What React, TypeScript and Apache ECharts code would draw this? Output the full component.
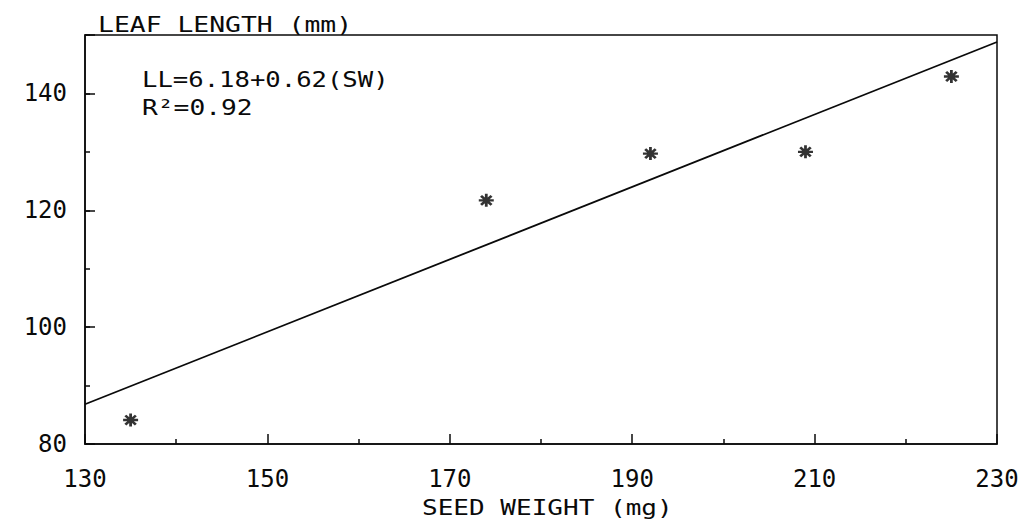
import React, { useEffect, useRef } from "react";
import * as echarts from "echarts";

const seedWeight = [135, 174, 192, 209, 225];
const leafLength = [84.1, 121.7, 129.7, 130.0, 142.9];
const fitX = [130, 230];
const fitY = [86.8, 148.8];
const xTickLabels = [130, 150, 170, 190, 210, 230];
const yTickLabels = [80, 100, 120, 140];
const titleText = "LEAF LENGTH (mm)";
const xName = "SEED WEIGHT (mg)";
const eqText = "LL=6.18+0.62(SW)";
const r2Text = "R\u00b2=0.92";

const FONT = "DejaVu Sans Mono";
const INK = "#0a0a0a";
const ASTERISK = "path://M0,-10L0,10M-10,0L10,0M-7,-7L7,7M-7,7L7,-7";

export default function App() {
  const ref = useRef<HTMLDivElement>(null);
  useEffect(() => {
    if (!ref.current) return;
    const chart = echarts.init(ref.current, undefined, { renderer: "svg" });
    const baseAxisLabel = { color: INK, fontFamily: FONT, fontSize: 24 };
    const txt = (text: string, x: number, y: number, size: number, sx: number) => ({
      type: "text",
      x,
      y,
      scaleX: sx,
      style: { text, fill: INK, font: `${size}px '${FONT}'`, align: "left", verticalAlign: "middle" },
    });
    chart.setOption({
      animation: false,
      backgroundColor: "#ffffff",
      grid: {
        left: 85,
        right: 33,
        top: 35,
        bottom: 78,
        show: true,
        borderColor: INK,
        borderWidth: 1.5,
        backgroundColor: "transparent",
      },
      xAxis: [
        {
          type: "value",
          min: 130,
          max: 230,
          interval: 20,
          axisLine: { show: true, lineStyle: { color: INK, width: 1.5 } },
          axisTick: { show: true, inside: true, length: 10, lineStyle: { color: INK, width: 1.5 } },
          minorTick: { show: true, splitNumber: 2, length: 5, lineStyle: { color: INK, width: 1.5 } },
          splitLine: { show: false },
          minorSplitLine: { show: false },
          axisLabel: {
            ...baseAxisLabel,
            margin: 23,
            formatter: (v: number) => (xTickLabels.includes(v) ? String(v) : ""),
          },
        },
      ],
      yAxis: [
        {
          type: "value",
          min: 80,
          max: 150,
          interval: 10,
          position: "left",
          axisLine: { show: true, lineStyle: { color: INK, width: 1.5 } },
          axisTick: { show: true, inside: true, length: 5, lineStyle: { color: INK, width: 1.5 } },
          splitLine: { show: false },
          axisLabel: {
            ...baseAxisLabel,
            margin: 18,
            formatter: (v: number) => (yTickLabels.includes(v) ? String(v) : ""),
          },
        },
        {
          type: "value",
          min: 80,
          max: 150,
          interval: 20,
          position: "left",
          axisLine: { show: false },
          axisTick: { show: true, inside: true, length: 10, lineStyle: { color: INK, width: 1.5 } },
          splitLine: { show: false },
          axisLabel: { show: false },
        },
      ],
      graphic: [
        txt(titleText, 98, 24, 22, 1.2),
        txt(eqText, 142, 80, 21, 1.22),
        txt(r2Text, 142, 108, 21, 1.25),
        txt(xName, 422, 508, 21, 1.24),
      ],
      series: [
        {
          type: "line",
          data: fitX.map((x, i) => [x, fitY[i]]),
          showSymbol: false,
          symbol: "none",
          lineStyle: { color: INK, width: 1.8 },
          silent: true,
          z: 2,
        },
        {
          type: "scatter",
          data: seedWeight.map((x, i) => [x, leafLength[i]]),
          symbol: ASTERISK,
          symbolSize: [15, 13],
          itemStyle: { color: "none", borderColor: "#000", borderWidth: 2.6 },
          z: 3,
        },
      ],
    });
    return () => chart.dispose();
  }, []);
  return (
    <div
      ref={ref}
      style={{ position: "fixed", left: 0, top: 0, width: 1030, height: 522, background: "#fff" }}
    />
  );
}
